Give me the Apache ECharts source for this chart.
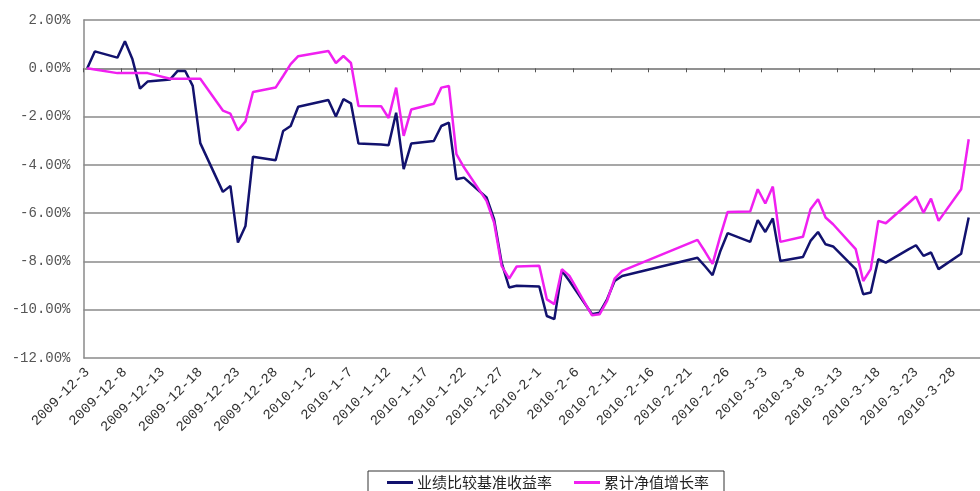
<!DOCTYPE html>
<html><head><meta charset="utf-8">
<script src="https://cdn.jsdelivr.net/npm/echarts@6/dist/echarts.min.js"></script>
<style>html,body{margin:0;padding:0;background:#fff}#c{width:980px;height:491px}</style>
</head><body><div id="c"></div>
<script>
const dates = [
 '2009-12-3','2009-12-4','2009-12-7','2009-12-8','2009-12-9','2009-12-10','2009-12-11','2009-12-14','2009-12-15','2009-12-16','2009-12-17','2009-12-18','2009-12-21','2009-12-22','2009-12-23','2009-12-24','2009-12-25','2009-12-28','2009-12-29','2009-12-30','2009-12-31',
 '2010-1-4','2010-1-5','2010-1-6','2010-1-7','2010-1-8','2010-1-11','2010-1-12','2010-1-13','2010-1-14','2010-1-15','2010-1-18','2010-1-19','2010-1-20','2010-1-21','2010-1-22','2010-1-25','2010-1-26','2010-1-27','2010-1-28','2010-1-29',
 '2010-2-1','2010-2-2','2010-2-3','2010-2-4','2010-2-5','2010-2-8','2010-2-9','2010-2-10','2010-2-11','2010-2-12','2010-2-22','2010-2-23','2010-2-24','2010-2-25','2010-2-26',
 '2010-3-1','2010-3-2','2010-3-3','2010-3-4','2010-3-5','2010-3-8','2010-3-9','2010-3-10','2010-3-11','2010-3-12','2010-3-15','2010-3-16','2010-3-17','2010-3-18','2010-3-19','2010-3-22','2010-3-23','2010-3-24','2010-3-25','2010-3-26','2010-3-29','2010-3-30'
];
// 业绩比较基准收益率 (%)
const benchmark = [
 0,0.7,0.44,1.12,0.37,-0.84,-0.55,-0.46,-0.11,-0.11,-0.73,-3.1,-5.12,-4.87,-7.22,-6.53,-3.66,-3.81,-2.6,-2.39,-1.59,
 -1.31,-2.0,-1.28,-1.45,-3.12,-3.16,-3.19,-1.84,-4.18,-3.12,-3.01,-2.39,-2.25,-4.6,-4.53,-5.35,-6.25,-8.05,-9.08,-9.01,
 -9.04,-10.26,-10.39,-8.39,-8.81,-10.19,-10.12,-9.57,-8.81,-8.6,-7.85,-8.2,-8.57,-7.6,-6.83,
 -7.19,-6.29,-6.78,-6.22,-7.98,-7.82,-7.15,-6.78,-7.29,-7.38,-8.32,-9.36,-9.29,-7.91,-8.05,-7.5,-7.33,-7.77,-7.63,-8.32,-7.68,-6.18
];
// 累计净值增长率 (%)
const navGrowth = [
 0,-0.05,-0.2,-0.2,-0.2,-0.2,-0.2,-0.43,-0.43,-0.43,-0.43,-0.43,-1.75,-1.88,-2.58,-2.2,-0.98,-0.8,-0.32,0.17,0.5,
 0.72,0.22,0.51,0.22,-1.56,-1.57,-2.06,-0.8,-2.8,-1.71,-1.47,-0.8,-0.73,-3.56,-4.1,-5.49,-6.39,-8.18,-8.71,-8.21,
 -8.18,-9.57,-9.77,-8.32,-8.6,-10.23,-10.19,-9.63,-8.71,-8.39,-7.11,-7.59,-8.1,-6.98,-5.95,
 -5.93,-5.01,-5.6,-4.9,-7.19,-6.98,-5.84,-5.42,-6.18,-6.46,-7.49,-8.81,-8.32,-6.32,-6.42,-5.59,-5.31,-5.98,-5.4,-6.32,-5.01,-2.94
];
const seriesNames = ['业绩比较基准收益率','累计净值增长率'];
const axisStart = '2009-12-3';
const axisDays = 119;

function toUTC(s){const p=s.split('-').map(Number);return Date.UTC(p[0],p[1]-1,p[2]);}
const t0 = toUTC(axisStart);
function dayPos(s){return Math.round((toUTC(s)-t0)/86400000)+0.5;}
function fmtDate(u){const d=new Date(t0+Math.round(u)*86400000);return d.getUTCFullYear()+'-'+(d.getUTCMonth()+1)+'-'+d.getUTCDate();}
// one category per calendar day of the axis (labels shown every 5th day)
const dayLabels = Array.from({length:axisDays},(_,i)=>fmtDate(i));

const chart = echarts.init(document.getElementById('c'));
const gridColor = '#8a8a8a';
chart.setOption({
  animation:false,
  backgroundColor:'#fff',
  grid:{left:83.5, top:20, right:-11.5, bottom:133, containLabel:false},
  legend:{
    left:368, top:471, itemWidth:26, itemHeight:3, itemGap:22, icon:'rect',
    padding:[4,15,20,19], borderColor:'#333', borderWidth:1,
    textStyle:{fontFamily:'Noto Sans CJK SC', fontSize:15, color:'#222', padding:[0,0,0,-1]},
    data:seriesNames
  },
  xAxis:[
    {type:'value', min:0, max:axisDays, interval:5, position:'bottom',
     axisLine:{show:false, onZero:false}, axisTick:{show:false}, splitLine:{show:false},
     axisLabel:{show:false}},
    {type:'value', min:0, max:axisDays, interval:5, position:'bottom',
     axisLine:{show:true, onZero:true, lineStyle:{color:gridColor, width:1.5}},
     axisTick:{show:true, length:4, lineStyle:{color:'#555', width:1}},
     axisLabel:{show:false}, splitLine:{show:false}},
    {type:'category', data:dayLabels, boundaryGap:true, position:'bottom',
     axisLine:{show:false, onZero:false}, axisTick:{show:false}, splitLine:{show:false},
     axisLabel:{interval:4, rotate:45, margin:12, fontFamily:'Liberation Mono', fontSize:14, color:'#333'}}
  ],
  yAxis:{type:'value', min:-12, max:2, interval:2,
    axisLine:{show:true, lineStyle:{color:gridColor, width:1.5}},
    axisTick:{show:false},
    splitLine:{show:true, lineStyle:{color:gridColor, width:1.5}},
    axisLabel:{margin:13, fontFamily:'Liberation Mono', fontSize:14, color:'#555', formatter:v=>v.toFixed(2)+'%'}},
  series:[
    {name:seriesNames[0], type:'line', xAxisIndex:0, symbol:'none', clip:true,
     lineStyle:{color:'#12126e', width:2.5}, itemStyle:{color:'#12126e'},
     data:dates.map((s,i)=>[dayPos(s), benchmark[i]])},
    {name:seriesNames[1], type:'line', xAxisIndex:0, symbol:'none', clip:true,
     lineStyle:{color:'#f020f0', width:2.5}, itemStyle:{color:'#f020f0'},
     data:dates.map((s,i)=>[dayPos(s), navGrowth[i]])}
  ]
});
</script></body></html>
